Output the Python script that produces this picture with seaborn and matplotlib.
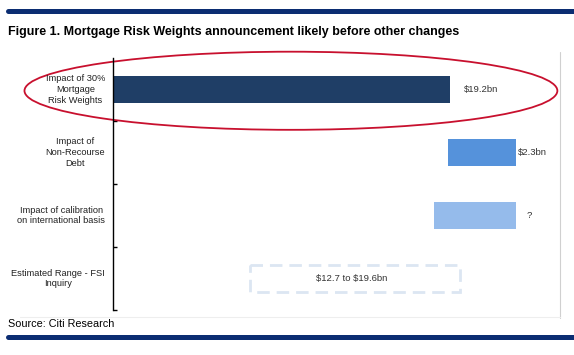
import matplotlib
matplotlib.use("Agg")
import matplotlib.pyplot as plt
from matplotlib.patches import Ellipse
from matplotlib.lines import Line2D
import seaborn as sns

# Data (bar extents, in the chart's own bar units)
categories = ["Impact of 30%\nMortgage\nRisk Weights",
              "Impact of\nNon-Recourse\nDebt",
              "Impact of calibration\non international basis",
              "Estimated Range - FSI\nInquiry"]
bar_start = [0.0, 19.1, 18.3, 7.8]
bar_end = [19.2, 23.0, 23.0, 19.8]
value_labels = ["$19.2bn", "$2.3bn", "?", "$12.7 to $19.6bn"]
bar_colors = ["#1F3E66", "#5592DB", "#95BBEB", "#FFFFFF"]

W, H = 574, 355


def main():
    sns.set_style("white")
    plt.rcParams["font.family"] = ["Liberation Sans", "DejaVu Sans"]
    plt.rcParams["text.parse_math"] = False

    fig = plt.figure(figsize=(W / 100, H / 100), dpi=100)
    ax = fig.add_axes([113 / W, 1 - 310 / H, (560 - 113) / W, 252 / H])

    widths = [e - s for s, e in zip(bar_start, bar_end)]
    sns.barplot(x=widths, y=categories, hue=categories, palette=bar_colors,
                orient="h", width=0.42, legend=False, ax=ax, saturation=1)

    # shift bars to their starting points (waterfall)
    for patch, s in zip(ax.patches, bar_start):
        patch.set_x(s)
        patch.set_edgecolor("none")
    box = ax.patches[3]
    box.set_facecolor("none")
    box.set_edgecolor("#DCE6F2")
    box.set_linewidth(2)
    box.set_linestyle((0, (4.5, 2.5)))

    ax.set_xlim(0, 25.5)
    ax.set_ylim(3.5, -0.5)
    ax.set_xlabel("")
    ax.set_ylabel("")
    ax.set_xticks([])
    ax.set_yticks([0.5, 1.5, 2.5, 3.5])
    ax.set_yticklabels([])
    ax.tick_params(axis="y", direction="in", length=3, width=1, color="black", left=True)
    for side in ["top", "right", "bottom"]:
        ax.spines[side].set_visible(False)
    ax.spines["left"].set_color("black")
    ax.spines["left"].set_linewidth(1)

    # category labels
    for i, cat in enumerate(categories):
        ax.text(-0.45, i, cat, ha="right", va="center", multialignment="center",
                fontsize=6.7, color="#222222", linespacing=1.25)

    # value labels
    label_x = [bar_end[0] + 0.8, bar_end[1] + 0.1, bar_end[2] + 0.6, 11.6]
    for i, (lx, lab) in enumerate(zip(label_x, value_labels)):
        ax.text(lx, i, lab, ha="left", va="center", fontsize=6.8, color="#333333")

    # red highlight ellipse
    ax.add_patch(Ellipse((10.15, 0.02), 30.4, 1.24, fill=False,
                         edgecolor="#C8102E", linewidth=1.3, clip_on=False))

    # decorations
    fig.add_artist(Line2D([8 / W, 1], [1 - 11 / H] * 2, color="#0B2D72", lw=3.6))
    fig.add_artist(Line2D([8 / W, 1], [1 - 337 / H] * 2, color="#0B2D72", lw=3.6))
    fig.add_artist(Line2D([560 / W] * 2, [1 - 52 / H, 1 - 318 / H], color="#D0D0D0", lw=0.8))
    fig.add_artist(Line2D([20 / W, 560 / W], [1 - 317 / H] * 2, color="#EEEEEE", lw=0.8))
    fig.text(8 / W, 1 - 32 / H, "Figure 1. Mortgage Risk Weights announcement likely before other changes",
             fontsize=9.0, fontweight="bold", ha="left", va="center", color="black")
    fig.text(8 / W, 1 - 324 / H, "Source: Citi Research", fontsize=7.8,
             ha="left", va="center", color="black")

    fig.savefig("out.png", dpi=100)


if __name__ == "__main__":
    main()
